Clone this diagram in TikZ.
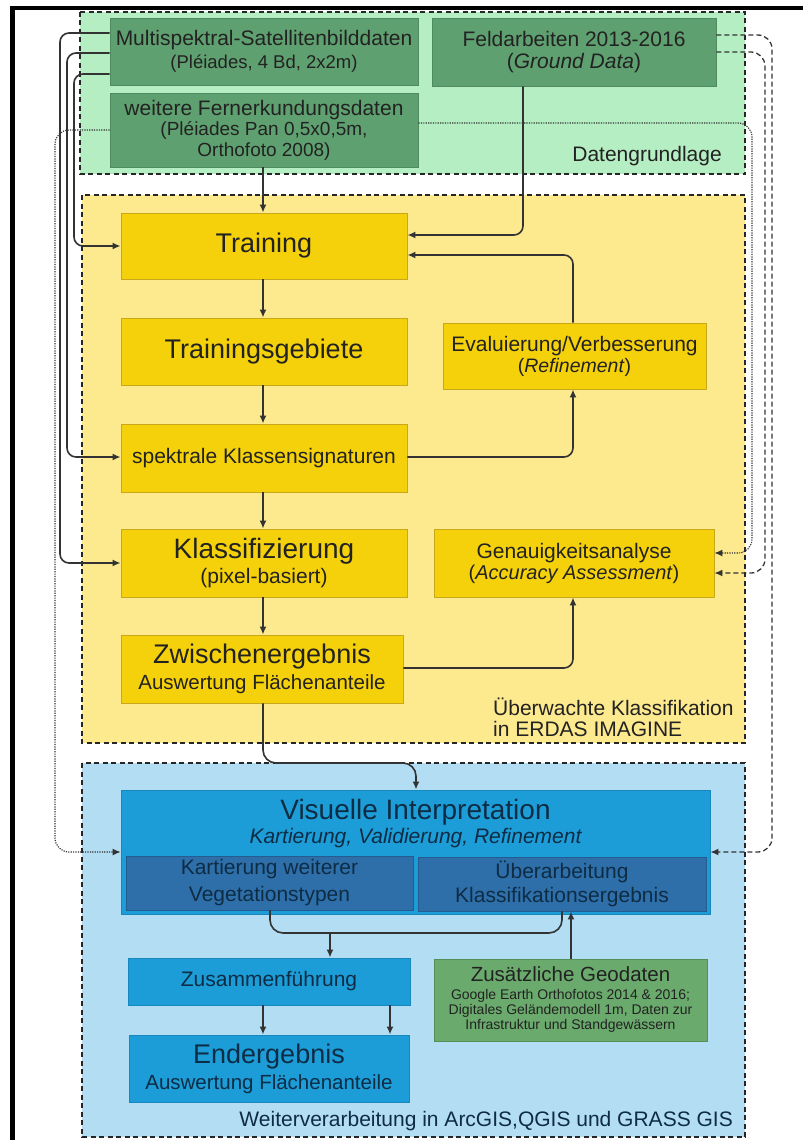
\documentclass[tikz,border=0pt]{standalone}
\usepackage{fontspec}
\setmainfont{Liberation Sans}
\usetikzlibrary{arrows.meta}
\definecolor{rgreen}{HTML}{B4EEC2}
\definecolor{bgreen}{HTML}{5FA070}
\definecolor{bgreenD}{HTML}{4E8C5F}
\definecolor{ryellow}{HTML}{FDE98E}
\definecolor{byellow}{HTML}{F5D10C}
\definecolor{byellowD}{HTML}{C9A81A}
\definecolor{rblue}{HTML}{B3DDF3}
\definecolor{bblue}{HTML}{1C9DD8}
\definecolor{bblueD}{HTML}{1787BD}
\definecolor{bnavy}{HTML}{2E6FAA}
\definecolor{bnavyD}{HTML}{245C90}
\definecolor{bgeo}{HTML}{6AAA6C}
\definecolor{bgeoD}{HTML}{558F58}
\definecolor{txt}{HTML}{222222}
\definecolor{txtb}{HTML}{0E2C44}
\definecolor{lnc}{HTML}{333333}
\newcommand{\myfs}[2]{\fontsize{#1}{#2}\selectfont}
\begin{document}
\begin{tikzpicture}[x=1pt,y=-1pt,
 region/.style={line width=2.4pt, draw=black!85, dash pattern=on 5pt off 3.5pt},
 box/.style={rectangle, inner sep=0pt, align=center, line width=0.9pt, text=txt},
 gbox/.style={box, fill=bgreen, draw=bgreenD},
 ybox/.style={box, fill=byellow, draw=byellowD},
 bbox/.style={box, fill=bblue, draw=bblueD, text=txtb},
 nbox/.style={box, fill=bnavy, draw=bnavyD, text=txtb},
 geobox/.style={box, fill=bgeo, draw=bgeoD},
 lbl/.style={inner sep=0pt, text=txt, font=\myfs{21}{21}},
 conn/.style={line width=1.6pt, draw=lnc, rounded corners=9pt},
 arr/.style={conn, -{Latex[length=8pt,width=7pt]}},
 darr/.style={line width=1.3pt, draw=lnc, dash pattern=on 5pt off 3pt, rounded corners=14pt, -{Latex[length=8pt,width=7pt]}},
 oarr/.style={line width=1.1pt, draw=lnc, dash pattern=on 1.2pt off 1.2pt, rounded corners=14pt, -{Latex[length=8pt,width=7pt]}},
]
\useasboundingbox (0,0) rectangle (803,1140);
\fill[white] (0,0) rectangle (803,1140);
% frame
\draw[line width=4.5pt] (12.5,1140) -- (12.5,8) -- (803,8);
% regions
\draw[region, fill=rgreen] (80,12) rectangle (745,174);
\draw[region, fill=ryellow] (82,195) rectangle (745,743);
\draw[region, fill=rblue] (82,763) rectangle (745,1137);

% region labels
\node[lbl, anchor=east] (lgreen) at (722,156) {Datengrundlage};
\node[lbl, anchor=west, align=left] (lyellow) at (493,717) {Überwachte Klassifikation\\in ERDAS IMAGINE};
\node[lbl, anchor=east, text=txtb] (lblue) at (733,1121) {Weiterverarbeitung in ArcGIS,QGIS und GRASS GIS};

% data boxes
\node[gbox, minimum width=308pt, minimum height=67pt, font=\myfs{21}{23}] (multi) at (264,51.5)
  {Multispektral-Satellitenbilddaten\\{\myfs{18.5}{23}(Pléiades, 4 Bd, 2x2m)}};
\node[gbox, minimum width=284pt, minimum height=68pt, font=\myfs{21}{21.5}] (feld) at (574,52)
  {Feldarbeiten 2013-2016\\(\textit{Ground Data})};
\node[gbox, minimum width=308pt, minimum height=74pt, font=\myfs{21}{20.5}] (weitere) at (264,130)
  {weitere Fernerkundungsdaten\\{\myfs{19}{20.5}(Pléiades Pan 0,5x0,5m,}\\{\myfs{19}{20.5}Orthofoto 2008)}};

% classification boxes
\node[ybox, minimum width=286pt, minimum height=66pt, font=\myfs{27}{30}] (training) at (264,246) {Training};
\node[ybox, minimum width=286pt, minimum height=67pt, font=\myfs{27}{30}] (tgebiete) at (264,351.5) {Trainingsgebiete};
\node[ybox, minimum width=286pt, minimum height=68pt, font=\myfs{21}{24}] (spektral) at (264,458) {spektrale Klassensignaturen};
\node[ybox, minimum width=286pt, minimum height=68pt, font=\myfs{28}{25}] (klass) at (264,563)
  {Klassifizierung\\{\myfs{21}{25}(pixel-basiert)}};
\node[ybox, minimum width=282pt, minimum height=68pt, font=\myfs{27}{26}] (zwischen) at (262,669)
  {Zwischenergebnis\\{\myfs{20.5}{26}Auswertung Flächenanteile}};
\node[ybox, minimum width=263pt, minimum height=66pt, font=\myfs{21}{21}] (eval) at (574.5,356)
  {Evaluierung/Verbesserung\\{\myfs{19.5}{21}(\textit{Refinement})}};
\node[ybox, minimum width=280pt, minimum height=68pt, font=\myfs{21}{21}] (genau) at (574,563)
  {Genauigkeitsanalyse\\{\myfs{20}{21}(\textit{Accuracy Assessment})}};

% GIS boxes
\node[bbox, minimum width=589pt, minimum height=124pt] (visu) at (415.5,852) {};
\node[inner sep=0pt, align=center, text=txtb, font=\myfs{28}{24}] (visut) at (415.5,824)
  {Visuelle Interpretation\\{\myfs{21}{24}\itshape Kartierung, Validierung, Refinement}};
\node[nbox, minimum width=287pt, minimum height=54pt, font=\myfs{21}{27}] (kart) at (269.5,883)
  {Kartierung weiterer\\Vegetationstypen};
\node[nbox, minimum width=288pt, minimum height=54pt, font=\myfs{21}{24}] (ueber) at (562,884)
  {Überarbeitung\\Klassifikationsergebnis};
\node[bbox, minimum width=282pt, minimum height=47pt, font=\myfs{21}{24}] (zusam) at (269,981.5) {Zusammenführung};
\node[bbox, minimum width=280pt, minimum height=67pt, font=\myfs{27}{26}] (endn) at (269,1068.5)
  {Endergebnis\\{\myfs{20.5}{26}Auswertung Flächenanteile}};
\node[geobox, minimum width=273pt, minimum height=82pt, font=\myfs{14}{15}] (geo) at (570.5,1000)
  {{\myfs{20.5}{15}Zusätzliche Geodaten}\\[3pt]Google Earth Orthofotos 2014 \& 2016;\\Digitales Geländemodell 1m, Daten zur\\Infrastruktur und Standgewässern};

% connectors: data -> classification
\draw[arr] (multi.west |- 0,74) -- (74,74) -- (74,246) -- (training.west);
\draw[arr] (multi.west |- 0,53) -- (67,53) -- (67,457) -- (spektral.west |- 0,457);
\draw[arr] (multi.west |- 0,33) -- (60,33) -- (60,563) -- (klass.west);
\draw[arr] (weitere.south -| 263,0) -- (training.north -| 263,0);
\draw[arr] (feld.south -| 523,0) -- (523,235) -- (training.east |- 0,235);
\draw[arr] (eval.north -| 573,0) -- (573,255) -- (training.east |- 0,255);
\draw[arr] (spektral.east |- 0,457) -- (573,457) -- (eval.south -| 573,0);
\draw[arr] (zwischen.east |- 0,668) -- (573,668) -- (genau.south -| 573,0);
% vertical chain
\draw[arr] (training.south -| 263,0) -- (tgebiete.north -| 263,0);
\draw[arr] (tgebiete.south -| 263,0) -- (spektral.north -| 263,0);
\draw[arr] (spektral.south -| 263,0) -- (klass.north -| 263,0);
\draw[arr] (klass.south -| 263,0) -- (zwischen.north -| 263,0);
\draw[arr, rounded corners=13pt] (zwischen.south -| 263,0) -- (263,763) -- (416,763) -- (visu.north -| 416,0);
% dotted / dashed long connectors
\draw[oarr] (weitere.west |- 0,130) -- (55,130) -- (55,852) -- (visu.west);
\draw[oarr] (weitere.east |- 0,123) -- (752,123) -- (752,553) -- (genau.east |- 0,553);
\draw[darr] (feld.east |- 0,35) -- (772,35) -- (772,852) -- (visu.east);
\draw[darr] (feld.east |- 0,52) -- (765,52) -- (765,573) -- (genau.east |- 0,573);
% GIS part
\coordinate (join) at (330,933);
\draw[conn, rounded corners=13pt] (kart.south -| 270,0) -- (270,933) -- (562,933) -- (ueber.south -| 562,0);
\draw[arr] (join) -- (zusam.north -| 330,0);
\draw[arr] (geo.north -| 571,0) -- (ueber.south -| 571,0);
\draw[arr] (zusam.south -| 263,0) -- (endn.north -| 263,0);
\draw[arr] (zusam.south -| 390,0) -- (endn.north -| 390,0);
\end{tikzpicture}
\end{document}
